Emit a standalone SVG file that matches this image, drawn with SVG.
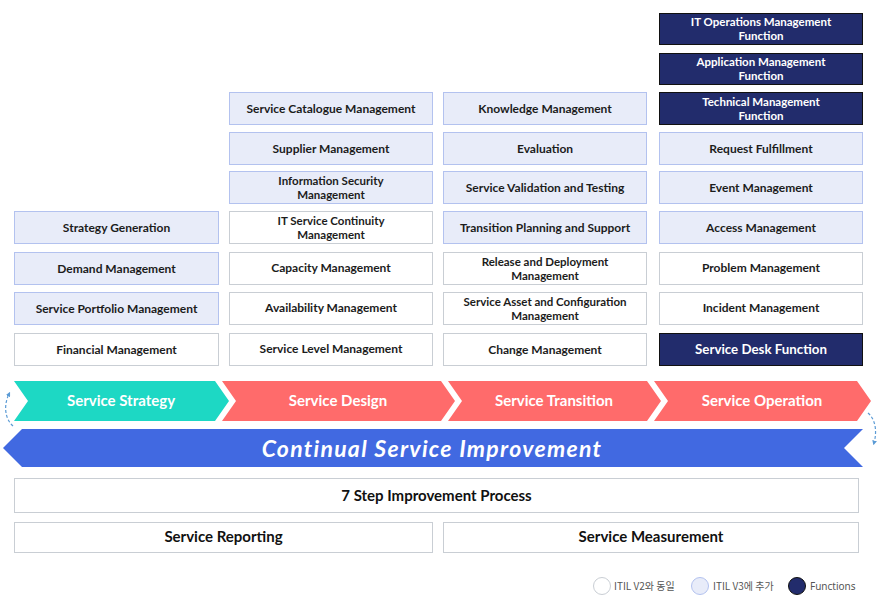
<svg xmlns="http://www.w3.org/2000/svg" width="878" height="616" viewBox="0 0 878 616">
<defs>
<style>
.w{fill:#ffffff;stroke:#c9ced4;stroke-width:1}
.b{fill:#e8ecf9;stroke:#b3c2ef;stroke-width:1}
.n{fill:#222c6c;stroke:#111111;stroke-width:1}
text{font-family:"Lato","Liberation Sans",sans-serif;text-anchor:middle}
.t{font-size:12px;font-weight:700;fill:#1c1c1c}
.t2{font-size:11.5px;font-weight:700;fill:#1c1c1c}
.tn{font-size:11.5px;font-weight:700;fill:#ffffff}
.tl{font-size:13.3px;font-weight:700;fill:#ffffff}
.ch{font-size:15px;font-weight:700;fill:#ffffff}
.big{font-size:15px;font-weight:700;fill:#111111}
.lg{font-size:10px;fill:#555555;text-anchor:start}
.dash{fill:none;stroke:#5b9bd5;stroke-width:1.2;stroke-dasharray:3 2}
</style>
<marker id="ah" viewBox="0 0 10 10" refX="5" refY="5" markerWidth="4" markerHeight="4" orient="auto-start-reverse">
<path d="M0,0 L10,5 L0,10 z" fill="#5b9bd5"/>
</marker>
</defs>
<rect width="878" height="616" fill="#ffffff"/>

<!-- Column 1: Service Strategy -->
<g id="strategy-generation"><rect class="b" x="14.5" y="211.5" width="204" height="32"/><text class="t" x="116.5" y="231.5">Strategy Generation</text></g>
<g id="demand-management"><rect class="b" x="14.5" y="252.5" width="204" height="32"/><text class="t" x="116.5" y="272.5">Demand Management</text></g>
<g id="service-portfolio-management"><rect class="b" x="14.5" y="292.5" width="204" height="32"/><text class="t" x="116.5" y="312.5">Service Portfolio Management</text></g>
<g id="financial-management"><rect class="w" x="14.5" y="333.5" width="204" height="32"/><text class="t" x="116.5" y="353.5">Financial Management</text></g>

<!-- Column 2: Service Design -->
<g id="service-catalogue-management"><rect class="b" x="229.5" y="92.5" width="203" height="32"/><text class="t" x="331" y="112.5">Service Catalogue Management</text></g>
<g id="supplier-management"><rect class="b" x="229.5" y="132.5" width="203" height="32"/><text class="t" x="331" y="152.5">Supplier Management</text></g>
<g id="information-security-management"><rect class="b" x="229.5" y="171.5" width="203" height="32"/><text class="t2" x="331" y="184.5"><tspan x="331">Information Security</tspan><tspan x="331" dy="14">Management</tspan></text></g>
<g id="it-service-continuity-management"><rect class="w" x="229.5" y="211.5" width="203" height="32"/><text class="t2" x="331" y="224.5"><tspan x="331">IT Service Continuity</tspan><tspan x="331" dy="14">Management</tspan></text></g>
<g id="capacity-management"><rect class="w" x="229.5" y="252.5" width="203" height="32"/><text class="t" x="331" y="272">Capacity Management</text></g>
<g id="availability-management"><rect class="w" x="229.5" y="292.5" width="203" height="32"/><text class="t" x="331" y="312">Availability Management</text></g>
<g id="service-level-management"><rect class="w" x="229.5" y="333.5" width="203" height="32"/><text class="t" x="331" y="352.5">Service Level Management</text></g>

<!-- Column 3: Service Transition -->
<g id="knowledge-management"><rect class="b" x="443.5" y="92.5" width="203" height="32"/><text class="t" x="545" y="112.5">Knowledge Management</text></g>
<g id="evaluation"><rect class="b" x="443.5" y="132.5" width="203" height="32"/><text class="t" x="545" y="152.5">Evaluation</text></g>
<g id="service-validation-and-testing"><rect class="b" x="443.5" y="171.5" width="203" height="32"/><text class="t" x="545" y="191.5">Service Validation and Testing</text></g>
<g id="transition-planning-and-support"><rect class="b" x="443.5" y="211.5" width="203" height="32"/><text class="t" x="545" y="231.5">Transition Planning and Support</text></g>
<g id="release-and-deployment-management"><rect class="w" x="443.5" y="252.5" width="203" height="32"/><text class="t2" x="545" y="265.5"><tspan x="545">Release and Deployment</tspan><tspan x="545" dy="14">Management</tspan></text></g>
<g id="service-asset-and-configuration-management"><rect class="w" x="443.5" y="292.5" width="203" height="32"/><text class="t2" x="545" y="305.5"><tspan x="545">Service Asset and Configuration</tspan><tspan x="545" dy="14">Management</tspan></text></g>
<g id="change-management"><rect class="w" x="443.5" y="333.5" width="203" height="32"/><text class="t" x="545" y="353.5">Change Management</text></g>

<!-- Column 4: Service Operation -->
<g id="it-operations-management-function"><rect class="n" x="659.5" y="13.5" width="203" height="31"/><text class="tn" x="761" y="26"><tspan x="761">IT Operations Management</tspan><tspan x="761" dy="14">Function</tspan></text></g>
<g id="application-management-function"><rect class="n" x="659.5" y="53.5" width="203" height="31"/><text class="tn" x="761" y="66"><tspan x="761">Application Management</tspan><tspan x="761" dy="14">Function</tspan></text></g>
<g id="technical-management-function"><rect class="n" x="659.5" y="92.5" width="203" height="32"/><text class="tn" x="761" y="105.5"><tspan x="761">Technical Management</tspan><tspan x="761" dy="14">Function</tspan></text></g>
<g id="request-fulfillment"><rect class="b" x="659.5" y="132.5" width="203" height="32"/><text class="t" x="761" y="152.5">Request Fulfillment</text></g>
<g id="event-management"><rect class="b" x="659.5" y="171.5" width="203" height="32"/><text class="t" x="761" y="191.5">Event Management</text></g>
<g id="access-management"><rect class="b" x="659.5" y="211.5" width="203" height="32"/><text class="t" x="761" y="231.5">Access Management</text></g>
<g id="problem-management"><rect class="w" x="659.5" y="252.5" width="203" height="32"/><text class="t" x="761" y="272">Problem Management</text></g>
<g id="incident-management"><rect class="w" x="659.5" y="292.5" width="203" height="32"/><text class="t" x="761" y="312">Incident Management</text></g>
<g id="service-desk-function"><rect class="n" x="659.5" y="333.5" width="203" height="32"/><text class="tl" x="761" y="353.5">Service Desk Function</text></g>

<!-- Lifecycle chevrons -->
<g id="service-strategy"><polygon points="14,381 215,381 229,401 215,421 14,421 28,401" fill="#1dd8c4"/><text class="ch" x="121" y="406">Service Strategy</text></g>
<g id="service-design"><polygon points="222,381 441,381 455,401 441,421 222,421 236,401" fill="#ff6b6b"/><text class="ch" x="338" y="406">Service Design</text></g>
<g id="service-transition"><polygon points="448,381 647,381 661,401 647,421 448,421 462,401" fill="#ff6b6b"/><text class="ch" x="554" y="406">Service Transition</text></g>
<g id="service-operation"><polygon points="654,381 857,381 871,401 857,421 654,421 668,401" fill="#ff6b6b"/><text class="ch" x="762" y="406">Service Operation</text></g>

<!-- CSI bar -->
<g id="continual-service-improvement"><polygon points="22,429 863,429 844,448 863,467 22,467 3,448" fill="#4169e1"/><text x="432" y="457" style="font-size:23px;font-weight:700;font-style:italic;fill:#ffffff;letter-spacing:1.3px">Continual Service Improvement</text></g>

<!-- connectors -->
<g id="connectors">
<path class="dash" d="M13,426 C4,418 4,404 9,394" marker-end="url(#ah)"/>
<path class="dash" d="M868,413 C876,420 877,432 874,443" marker-end="url(#ah)"/>
</g>

<!-- CSI components -->
<g id="seven-step-improvement-process"><rect class="w" x="14.5" y="478.5" width="844" height="34"/><text class="big" x="436.5" y="500.5">7 Step Improvement Process</text></g>
<g id="service-reporting"><rect class="w" x="14.5" y="522.5" width="418" height="30"/><text class="big" x="223.5" y="542">Service Reporting</text></g>
<g id="service-measurement"><rect class="w" x="443.5" y="522.5" width="415" height="30"/><text class="big" x="651" y="542">Service Measurement</text></g>

<!-- legend -->
<g id="legend">
<circle cx="602" cy="586" r="8.5" fill="#ffffff" stroke="#c9ced4"/>
<text class="lg" x="614" y="589.5" style="font-family:'Noto Sans CJK KR','Noto Sans',sans-serif">ITIL V2와 동일</text>
<circle cx="700" cy="586" r="8.5" fill="#e8ecf9" stroke="#b3c2ef"/>
<text class="lg" x="713" y="589.5" style="font-family:'Noto Sans CJK KR','Noto Sans',sans-serif">ITIL V3에 추가</text>
<circle cx="797" cy="586" r="8.5" fill="#222c6c" stroke="#111111"/>
<text class="lg" x="810" y="589.5" style="font-family:'Noto Sans','Liberation Sans',sans-serif">Functions</text>
</g>
</svg>
